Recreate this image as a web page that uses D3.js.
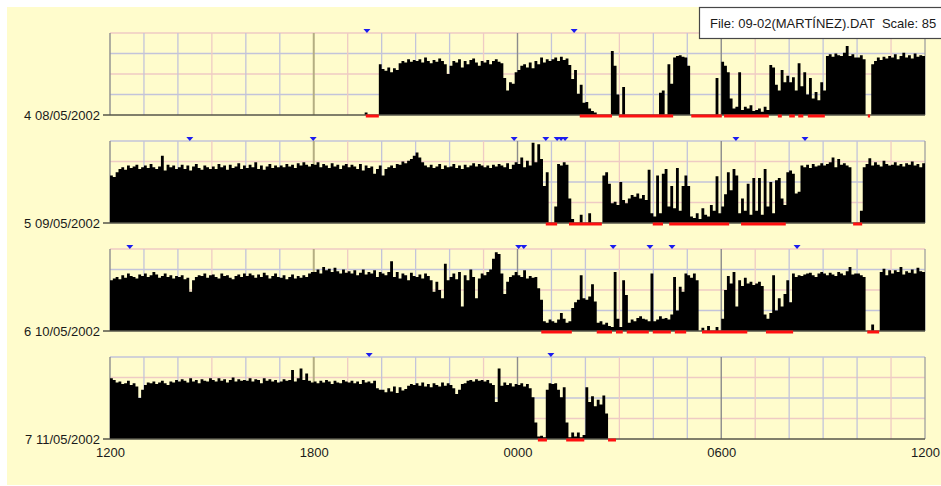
<!DOCTYPE html>
<html>
<head>
<meta charset="utf-8">
<script src="https://cdn.jsdelivr.net/npm/d3@7"></script>
<style>
  html, body { margin: 0; padding: 0; background: #ffffff; }
  svg { display: block; font-family: "Liberation Sans", Arial, sans-serif; }
</style>
</head>
<body>
<svg id="chart" width="941" height="486"></svg>
<script>
// ---- Day labels and clock ticks -------------------------------------------
const dates = ["4 08/05/2002", "5 09/05/2002", "6 10/05/2002", "7 11/05/2002"];
const hourTicks = [0, 360, 720, 1080, 1440];            // minutes after 12:00
const hourLabels = ["1200", "1800", "0000", "0600", "1200"];
const fileTitle = "File: 09-02(MARTÍNEZ).DAT  Scale: 85";

// ---- Activity counts, 5-minute epochs from 12:00 (one row per hour) --------
const act4 = [
  0,0,0,0,0,0,0,0,0,0,0,0,
  0,0,0,0,0,0,0,0,0,0,0,0,
  0,0,0,0,0,0,0,0,0,0,0,0,
  0,0,0,0,0,0,0,0,0,0,0,0,
  0,0,0,0,0,0,0,0,0,0,0,0,
  0,0,0,0,0,0,0,0,0,0,0,0,
  0,0,0,0,0,0,0,0,0,0,0,0,
  0,0,0,0,0,0,3,0,0,0,0,62,
  56,54,58,52,57,55,63,66,64,68,65,67,
  66,68,64,70,66,63,67,65,69,66,62,50,
  60,66,64,68,58,66,62,67,69,64,60,66,
  64,67,62,66,68,65,63,45,30,40,38,52,
  55,60,62,58,64,57,66,62,70,64,68,66,
  68,70,66,71,67,69,61,44,55,26,37,15,
  16,8,5,3,0,0,0,0,0,78,60,25,
  0,34,0,0,0,0,0,0,0,0,0,0,
  0,0,27,30,0,62,38,70,72,73,71,70,
  60,0,0,0,0,0,0,0,0,0,45,0,
  65,60,52,20,8,10,52,6,10,8,12,5,
  6,8,4,10,6,61,58,37,30,55,40,48,
  40,46,30,63,35,52,25,45,20,28,18,40,
  30,72,74,71,75,73,72,76,84,72,74,70,
  70,73,68,0,0,62,66,70,67,71,69,72,
  70,74,68,72,76,70,73,69,75,71,73,72
];
const act5 = [
  58,56,62,66,68,65,70,67,69,71,66,68,
  70,67,72,68,66,69,82,64,71,68,70,66,
  68,71,66,70,64,69,72,67,65,70,68,66,
  69,66,72,68,70,65,71,67,69,73,66,70,
  67,71,68,74,66,70,65,69,72,67,70,68,
  70,68,72,69,71,67,73,70,74,71,69,72,
  71,74,68,72,70,67,73,69,71,66,70,72,
  68,71,69,66,72,64,70,67,69,60,66,70,
  58,66,68,70,67,72,71,75,73,76,78,82,
  86,80,74,70,68,71,67,69,72,66,70,68,
  69,72,67,70,66,71,68,70,73,69,72,70,
  68,70,67,71,69,72,70,68,73,66,71,74,
  72,80,68,76,70,98,74,96,78,45,62,0,
  0,20,72,70,74,71,30,5,0,0,10,0,
  0,12,0,0,0,0,58,62,48,24,26,22,
  50,28,24,30,34,32,36,30,34,28,65,12,
  8,58,12,60,66,20,45,18,67,15,45,58,
  45,8,6,12,5,18,10,8,22,15,57,12,
  20,35,62,40,66,58,12,30,15,48,10,55,
  15,55,10,66,20,50,12,52,55,30,22,62,
  64,60,36,38,70,68,71,67,72,69,70,73,
  70,72,74,80,68,78,71,73,70,68,0,0,
  0,15,68,72,79,70,74,71,69,76,72,70,
  71,74,70,72,69,73,71,75,70,72,68,73
];
const act6 = [
  62,64,66,63,68,65,70,67,66,64,69,67,
  70,66,68,72,69,65,67,70,66,68,64,67,
  66,68,63,65,48,62,66,68,67,70,65,68,
  69,66,64,70,67,68,65,63,67,69,66,70,
  67,70,68,65,69,66,71,68,64,67,70,66,
  65,68,63,66,69,64,67,65,68,66,70,72,
  72,75,70,78,74,76,72,77,73,70,75,71,
  73,70,74,68,71,75,69,72,70,74,66,72,
  70,68,72,85,66,72,64,70,68,62,71,67,
  66,69,64,70,67,62,48,60,50,40,82,62,
  66,70,63,72,30,68,62,75,66,40,64,70,
  68,72,75,88,96,94,70,45,60,66,68,72,
  68,66,74,64,67,65,66,52,38,12,10,14,
  12,10,14,22,15,10,12,28,35,38,68,40,
  38,42,57,36,10,12,8,10,6,5,72,15,
  5,62,44,10,14,12,16,18,15,14,12,70,
  12,14,18,15,16,14,20,66,25,54,48,70,
  68,65,70,62,0,4,0,6,0,0,5,0,
  15,50,67,58,72,30,62,55,65,58,60,56,
  58,60,55,20,15,22,68,25,40,30,45,62,
  35,70,66,68,67,69,70,71,68,66,70,72,
  70,68,71,69,67,72,70,68,73,78,69,70,
  70,68,66,0,0,8,0,0,72,76,68,74,
  70,74,72,78,69,73,71,75,70,77,73,72
];
const act7 = [
  74,72,69,70,67,68,71,66,68,64,50,60,
  66,69,68,70,67,69,71,68,66,70,69,72,
  70,73,71,69,74,70,72,68,73,71,70,74,
  72,70,74,71,73,69,72,75,70,73,71,72,
  71,74,70,73,72,68,74,71,73,70,72,69,
  70,73,71,72,84,70,74,86,72,80,71,69,
  70,68,71,69,72,70,67,71,69,68,72,70,
  69,71,68,70,67,72,69,70,68,71,62,60,
  60,57,62,58,64,56,63,59,61,65,67,66,
  68,65,69,64,67,63,68,66,64,69,65,68,
  66,62,55,60,67,68,71,72,70,73,71,72,
  70,72,68,66,45,86,65,69,66,68,64,67,
  66,68,64,67,62,51,20,3,4,2,60,68,
  67,68,60,51,63,20,2,8,3,8,2,5,
  63,45,52,40,48,42,53,31,0,0,0,0,
  0,0,0,0,0,0,0,0,0,0,0,0,
  0,0,0,0,0,0,0,0,0,0,0,0,
  0,0,0,0,0,0,0,0,0,0,0,0,
  0,0,0,0,0,0,0,0,0,0,0,0,
  0,0,0,0,0,0,0,0,0,0,0,0,
  0,0,0,0,0,0,0,0,0,0,0,0,
  0,0,0,0,0,0,0,0,0,0,0,0,
  0,0,0,0,0,0,0,0,0,0,0,0,
  0,0,0,0,0,0,0,0,0,0,0,0
];

// ---- Scored sleep intervals [start, end] in minutes after 12:00 -----------
const sleep4 = [[452,475],[830,887],[899,995],[1027,1081],[1085,1164],[1180,1187],[1200,1210],[1216,1225],[1233,1263],[1339,1343]];
const sleep5 = [[770,790],[811,869],[959,977],[988,1094],[1115,1194],[1313,1329]];
const sleep6 = [[762,816],[860,887],[894,906],[913,952],[959,991],[998,1018],[1046,1126],[1159,1207],[1338,1359]];
const sleep7 = [[756,772],[806,838],[880,894]];

// ---- Event-marker presses, minutes after 12:00 ----------------------------
const marks4 = [454, 820];
const marks5 = [141, 359, 714, 770, 790, 797, 804, 1106, 1228];
const marks6 = [35, 722, 731, 889, 954, 993, 1214];
const marks7 = [458, 779];

const days = [
  { label: dates[0], act: act4, sleep: sleep4, marks: marks4 },
  { label: dates[1], act: act5, sleep: sleep5, marks: marks5 },
  { label: dates[2], act: act6, sleep: sleep6, marks: marks6 },
  { label: dates[3], act: act7, sleep: sleep7, marks: marks7 }
];

// ---- Layout ---------------------------------------------------------------
const W = 941, H = 486;
const plotLeft = 110, plotRight = 925;
const firstTop = 33, panelStep = 108, panelH = 82;
const epoch = 5;

const COL = {
  bg: "#fffccc",
  gridBlue: "#c3c4da",
  gridPink: "#efcbc4",
  major: "#8c8c8c",
  dusk: "#b4ae82",
  axis: "#56564a",
  sideAxis: "#8e8e8e",
  text: "#1a1a1a",
  sleep: "#ff1010",
  mark: "#1c1cf0"
};

const svg = d3.select("#chart");

svg.append("rect")
  .attr("x", 7).attr("y", 7)
  .attr("width", W - 7).attr("height", H - 8)
  .attr("fill", COL.bg);

const x = d3.scaleLinear().domain([0, 1440]).range([plotLeft, plotRight]);
const hours = d3.range(0, 25);

days.forEach((day, i) => {
  const top = firstTop + i * panelStep;
  const bottom = top + panelH;
  const y = d3.scaleLinear().domain([0, 100]).range([bottom, top]).clamp(true);
  const g = svg.append("g").attr("class", "day");

  // horizontal quarter lines, colours alternate down the page
  g.selectAll("line.h").data([100, 75, 50, 25]).join("line")
    .attr("class", "h")
    .attr("x1", plotLeft).attr("x2", plotRight)
    .attr("y1", d => y(d)).attr("y2", d => y(d))
    .attr("stroke", (d, k) => ((i * 5 + k) % 2 === 0 ? COL.gridPink : COL.gridBlue))
    .attr("stroke-width", 1.3);

  // hourly verticals
  g.selectAll("line.v").data(hours).join("line")
    .attr("class", "v")
    .attr("x1", h => x(h * 60)).attr("x2", h => x(h * 60))
    .attr("y1", top).attr("y2", bottom)
    .attr("stroke", h => {
      if (h === 0) return COL.sideAxis;
      if (h === 24) return "#a0a0a0";
      if (h === 6) return COL.dusk;
      if (h === 12 || h === 18) return COL.major;
      return h % 4 === 3 ? COL.gridPink : COL.gridBlue;
    })
    .attr("stroke-width", h => (h === 6 ? 2 : (h === 12 || h === 18 || h === 0) ? 1.4 : 1.3));

  // activity histogram
  const pts = day.act.map((v, j) => ({ m: j * epoch, v }));
  pts.push({ m: 1440, v: day.act[day.act.length - 1] });
  const area = d3.area()
    .curve(d3.curveStepAfter)
    .x(d => x(d.m))
    .y0(y(0))
    .y1(d => y(d.v));
  g.append("path").datum(pts).attr("d", area).attr("fill", "#000");

  // base axis with its little tick on the left
  g.append("line")
    .attr("x1", plotLeft - 7).attr("x2", plotRight)
    .attr("y1", bottom).attr("y2", bottom)
    .attr("stroke", COL.axis).attr("stroke-width", 1.5);

  // sleep intervals below the axis
  g.selectAll("rect.sleep").data(day.sleep).join("rect")
    .attr("class", "sleep")
    .attr("x", d => x(d[0]))
    .attr("width", d => Math.max(1.5, x(d[1]) - x(d[0])))
    .attr("y", bottom - 0.5)
    .attr("height", 3)
    .attr("fill", COL.sleep);

  // event markers above the panel
  g.selectAll("path.mark").data(day.marks).join("path")
    .attr("class", "mark")
    .attr("d", m => {
      const cx = x(m);
      return `M${cx - 3.5},${top - 4}L${cx + 3.5},${top - 4}L${cx},${top}Z`;
    })
    .attr("fill", COL.mark);

  // day label
  g.append("text")
    .attr("x", plotLeft - 10)
    .attr("y", bottom + 4.5)
    .attr("text-anchor", "end")
    .attr("font-size", 13)
    .attr("fill", COL.text)
    .text(day.label);
});

// clock axis under the last day
const lastBottom = firstTop + 3 * panelStep + panelH;
const xAxis = d3.axisBottom(x)
  .tickValues(hourTicks)
  .tickFormat((d, k) => hourLabels[k])
  .tickSize(0)
  .tickPadding(9);
const ax = svg.append("g")
  .attr("transform", `translate(0,${lastBottom})`)
  .call(xAxis);
ax.select(".domain").remove();
ax.selectAll("text")
  .attr("font-family", '"Liberation Sans", Arial, sans-serif')
  .attr("font-size", 13)
  .attr("fill", COL.text);

// file caption box
svg.append("rect")
  .attr("x", 699.5).attr("y", 7.5)
  .attr("width", 260).attr("height", 31)
  .attr("fill", "#ffffff")
  .attr("stroke", "#474747").attr("stroke-width", 1.2);
svg.append("text")
  .attr("x", 710).attr("y", 28)
  .attr("font-size", 13)
  .attr("fill", COL.text)
  .style("white-space", "pre")
  .text(fileTitle);
</script>
</body>
</html>
